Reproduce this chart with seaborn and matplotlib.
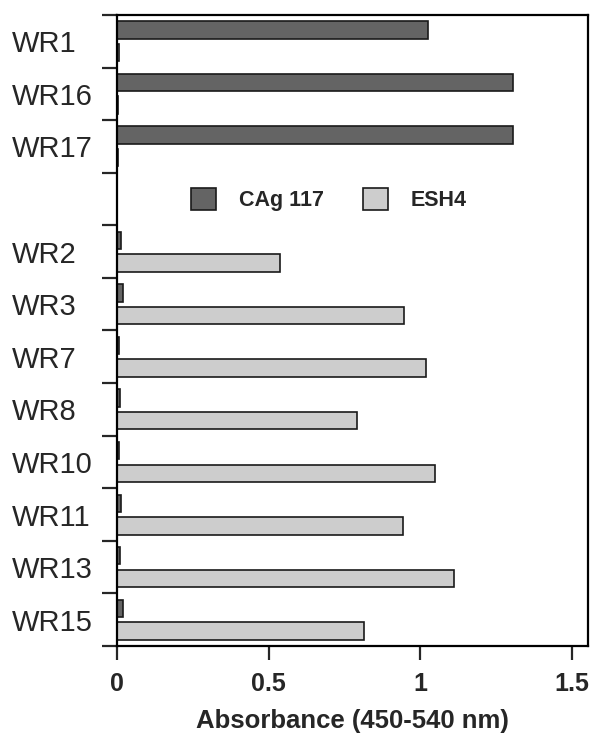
import numpy as np
import pandas as pd
import matplotlib
matplotlib.use("Agg")
import matplotlib.pyplot as plt
import seaborn as sns

# rows from top to bottom; the blank row holds the legend
strains = ["WR1", "WR16", "WR17", " ", "WR2", "WR3", "WR7", "WR8",
           "WR10", "WR11", "WR13", "WR15"]
cag117 = [1.025, 1.306, 1.306, None, 0.012, 0.020, 0.008, 0.010,
          0.008, 0.012, 0.010, 0.020]
esh4 = [0.007, 0.002, 0.002, None, 0.538, 0.947, 1.019, 0.793,
        1.048, 0.942, 1.112, 0.816]
series_names = ["CAg 117", "ESH4"]
x_ticks = [0, 0.5, 1, 1.5]
x_ticklabels = ["0", "0.5", "1", "1.5"]

rows = []
for s, a, b in zip(strains, cag117, esh4):
    if a is not None:
        rows.append({"strain": s, "antigen": series_names[0], "absorbance": a})
    if b is not None:
        rows.append({"strain": s, "antigen": series_names[1], "absorbance": b})
df = pd.DataFrame(rows)

sns.set_style("ticks")
plt.rcParams["font.family"] = ["Liberation Sans", "DejaVu Sans"]

fig = plt.figure(figsize=(5.91, 7.38), dpi=100)
ax = fig.add_axes([0.198, 0.1247, 0.797, 0.855])

sns.barplot(data=df, x="absorbance", y="strain", hue="antigen",
            order=strains, hue_order=series_names, orient="h",
            palette=["#646464", "#cdcdcd"], width=0.86, gap=0.23,
            edgecolor="#1a1a1a", linewidth=1.2, errorbar=None, ax=ax)

ax.set_xlim(0, 1.554)
ax.set_ylim(len(strains) - 0.5, -0.5)
ax.set_xticks(x_ticks)
ax.set_xticklabels(x_ticklabels, fontsize=18, fontweight="bold")
ax.set_xlabel("Absorbance (450-540 nm)", fontsize=18.5, fontweight="bold",
              labelpad=9)
ax.set_ylabel("")

# labels sit at row centres, tick marks at row boundaries
ax.set_yticks(range(len(strains)))
ax.set_yticklabels(strains, fontsize=21, ha="left")
ax.tick_params(axis="y", which="major", length=0, pad=76)
ax.set_yticks(np.arange(-0.5, len(strains)), minor=True)
ax.tick_params(axis="y", which="minor", length=11, width=1.6, direction="out")
ax.tick_params(axis="x", length=10, width=1.6, direction="out", pad=9)

for side in ["top", "right", "bottom", "left"]:
    ax.spines[side].set_visible(True)
    ax.spines[side].set_linewidth(1.6)
    ax.spines[side].set_color("black")

handles, labels = ax.get_legend_handles_labels()
ax.legend(handles, labels, loc="center", bbox_to_anchor=(0.45, 0.707),
          ncol=2, frameon=False, prop={"weight": "bold", "size": 15.5},
          handlelength=1.16, handleheight=1.16, handletextpad=1.07,
          columnspacing=1.77)

fig.savefig("out.png", dpi=100)
